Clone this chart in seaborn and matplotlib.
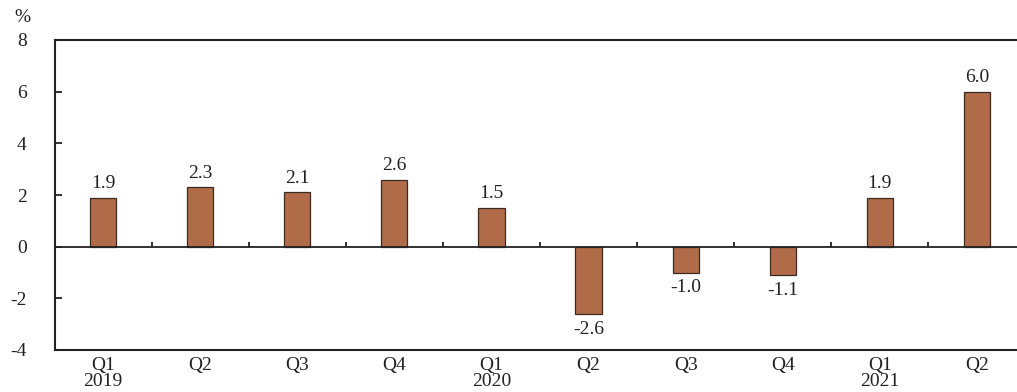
import numpy as np
import pandas as pd
import matplotlib
matplotlib.use("Agg")
import matplotlib.pyplot as plt
import seaborn as sns

# data
periods = ["2019Q1", "2019Q2", "2019Q3", "2019Q4", "2020Q1",
           "2020Q2", "2020Q3", "2020Q4", "2021Q1", "2021Q2"]
values = [1.9, 2.3, 2.1, 2.6, 1.5, -2.6, -1.0, -1.1, 1.9, 6.0]
tick_labels = ["Q1\n2019", "Q2", "Q3", "Q4", "Q1\n2020",
               "Q2", "Q3", "Q4", "Q1\n2021", "Q2"]
y_ticks = [-4, -2, 0, 2, 4, 6, 8]

df = pd.DataFrame({"period": periods, "value": values})

sns.set_style("ticks")
plt.rcParams["font.family"] = ["Liberation Serif", "DejaVu Serif"]
plt.rcParams["font.size"] = 14

bar_color = "#b06c48"
edge_color = "#3a2a22"
line_color = "#222222"
fs = 14

fig = plt.figure(figsize=(10.17, 3.92), dpi=100)
# axes run off the right edge, as in the reference
ax = fig.add_axes([54.5 / 1017, 42 / 392, 971 / 1017, 310 / 392])

sns.barplot(data=df, x="period", y="value", order=periods, color=bar_color,
            width=0.27, edgecolor=edge_color, linewidth=0.9, saturation=1,
            ax=ax)

ax.set_xlim(-0.5, len(periods) - 0.5)
ax.set_ylim(-4, 8)
ax.set_yticks(y_ticks)
ax.set_yticklabels([str(t) for t in y_ticks], fontsize=fs, color=line_color)
ax.set_xticks(range(len(periods)))
ax.set_xticklabels(tick_labels, fontsize=fs, color=line_color, linespacing=0.95)
ax.tick_params(axis="x", length=0, pad=5)
ax.tick_params(axis="y", direction="in", length=5, width=1.3, pad=20,
               colors=line_color)
ax.set_xlabel("")
ax.set_ylabel("")

for side in ["left", "top", "bottom"]:
    ax.spines[side].set_color(line_color)
    ax.spines[side].set_linewidth(1.5)
ax.spines["right"].set_visible(False)

# zero line with small category separator ticks
ax.axhline(0, color=line_color, linewidth=1.3)
bounds = np.arange(len(periods) - 1) + 0.5
ax.vlines(bounds, 0, 0.2, color=line_color, linewidth=1.3)

# value labels
for i, v in enumerate(values):
    off = 4 if v >= 0 else -5
    va = "bottom" if v >= 0 else "top"
    ax.annotate(f"{v:.1f}", (i, v), xytext=(0, off), textcoords="offset points",
                ha="center", va=va, fontsize=fs, color=line_color)

fig.text(14 / 1017, 1 - 18 / 392, "%", ha="left", va="center", fontsize=fs,
         color=line_color)

fig.savefig("out.png", dpi=100)
